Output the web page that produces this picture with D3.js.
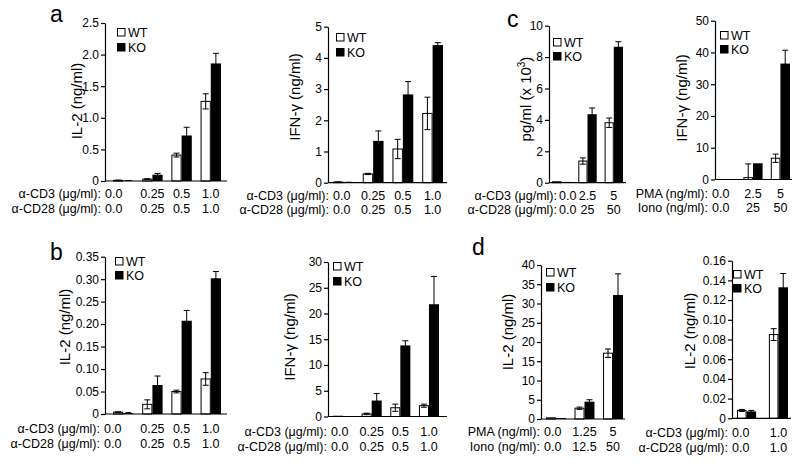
<!DOCTYPE html>
<html><head><meta charset="utf-8">
<script src="https://cdn.jsdelivr.net/npm/d3@7"></script>
<style>
body{margin:0;background:#fff}
svg{display:block}
text{font-family:"Liberation Sans",Arial,Helvetica,sans-serif;fill:#000}
</style>
</head><body>
<svg id="c" width="800" height="466"></svg>
<script>
// ---------- DATA ----------
const seriesNames = ["WT", "KO"];
const rowCD3 = "α-CD3 (μg/ml):";
const rowCD28 = "α-CD28 (μg/ml):";
const rowPMA = "PMA (ng/ml):";
const rowIono = "Iono (ng/ml):";

// panel a (anti-CD3/CD28 doses)
const aCD3 = ["0.0", "0.25", "0.5", "1.0"];
const aCD28 = ["0.0", "0.25", "0.5", "1.0"];
const aIL2Ticks = [0, 0.5, 1.0, 1.5, 2.0, 2.5];
const aIL2WT = [0.01, 0.03, 0.41, 1.26];
const aIL2WTerr = [0.004, 0.005, 0.03, 0.12];
const aIL2KO = [0.005, 0.10, 0.72, 1.86];
const aIL2KOerr = [0.003, 0.02, 0.13, 0.16];
const aIFNTicks = [0, 1, 2, 3, 4, 5];
const aIFNWT = [0.02, 0.28, 1.08, 2.22];
const aIFNWTerr = [0.005, 0.02, 0.31, 0.52];
const aIFNKO = [0.01, 1.34, 2.83, 4.41];
const aIFNKOerr = [0.005, 0.32, 0.41, 0.08];

// panel b
const bCD3 = ["0.0", "0.25", "0.5", "1.0"];
const bCD28 = ["0.0", "0.25", "0.5", "1.0"];
const bIL2Ticks = [0, 0.05, 0.10, 0.15, 0.20, 0.25, 0.30, 0.35];
const bIL2WT = [0.004, 0.0215, 0.05, 0.078];
const bIL2WTerr = [0.001, 0.01, 0.003, 0.014];
const bIL2KO = [0.002, 0.0645, 0.2075, 0.302];
const bIL2KOerr = [0.001, 0.02, 0.023, 0.015];
const bIFNTicks = [0, 5, 10, 15, 20, 25, 30];
const bIFNWT = [0.05, 0.5, 1.7, 2.1];
const bIFNWTerr = [0, 0.15, 0.7, 0.3];
const bIFNKO = [0.05, 3.1, 13.8, 21.8];
const bIFNKOerr = [0, 1.35, 0.9, 5.4];

// panel c
const cCD3 = ["0.0", "2.5", "5"];
const cCD28 = ["0.0", "25", "50"];
const cPgTicks = [0, 2, 4, 6, 8, 10];
const cPgWT = [0.06, 1.38, 3.82];
const cPgWTerr = [0, 0.2, 0.3];
const cPgKO = [0.05, 4.36, 8.66];
const cPgKOerr = [0, 0.4, 0.32];
const cPMA = ["0.0", "2.5", "5"];
const cIono = ["0.0", "25", "50"];
const cIFNTicks = [0, 10, 20, 30, 40, 50];
const cIFNWT = [0, 0.6, 6.7];
const cIFNWTerr = [0, 4.3, 1.3];
const cIFNKO = [0, 5.1, 36.5];
const cIFNKOerr = [0, 0, 4.2];

// panel d
const dPMA = ["0.0", "1.25", "5"];
const dIono = ["0.0", "12.5", "50"];
const dIL2aTicks = [0, 5, 10, 15, 20, 25, 30, 35, 40];
const dIL2aWT = [0.3, 2.8, 17.1];
const dIL2aWTerr = [0, 0.3, 1.1];
const dIL2aKO = [0.25, 4.5, 32.2];
const dIL2aKOerr = [0, 0.5, 5.5];
const dCD3 = ["0.0", "1.0"];
const dCD28 = ["0.0", "1.0"];
const dIL2bTicks = [0, 0.02, 0.04, 0.06, 0.08, 0.10, 0.12, 0.14, 0.16];
const dIL2bWT = [0.008, 0.085];
const dIL2bWTerr = [0.001, 0.006];
const dIL2bKO = [0.007, 0.133];
const dIL2bKOerr = [0.001, 0.014];

// ---------- LAYOUT ----------
const fmt1 = v => v === 0 ? "0" : d3.format(".1f")(v);
const fmt2 = v => v === 0 ? "0" : d3.format(".2f")(v);
const fmt0 = d3.format("d");

const panels = [
  {cats1: aCD3, cats2: aCD28, rows: [rowCD3, rowCD28], wt: aIL2WT, wtE: aIL2WTerr, ko: aIL2KO, koE: aIL2KOerr,
   ticks: aIL2Ticks, fmt: fmt1, title: ["IL-2 (ng/ml)"],
   axisX: 105, axisEnd: 227, bands: [113, 221], yTop: 23, yBot: 181,
   titleX: 82, titleY: 101, leg: [117, 28, 15], rowEnd: 101, rowY: [198, 213]},
  {cats1: aCD3, cats2: aCD28, rows: [rowCD3, rowCD28], wt: aIFNWT, wtE: aIFNWTerr, ko: aIFNKO, koE: aIFNKOerr,
   ticks: aIFNTicks, fmt: fmt0, title: ["IFN-γ (ng/ml)"],
   axisX: 328, axisEnd: 447, bands: [333, 443], yTop: 26.7, yBot: 182.7,
   titleX: 300, titleY: 97, leg: [336, 33, 15], rowEnd: 329, rowY: [199.5, 214]},
  {cats1: cCD3, cats2: cCD28, rows: [rowCD3, rowCD28], wt: cPgWT, wtE: cPgWTerr, ko: cPgKO, koE: cPgKOerr,
   ticks: cPgTicks, fmt: fmt0, title: null,
   axisX: 549, axisEnd: 626, bands: [552, 623], yTop: 25.7, yBot: 182.7,
   titleX: 531, titleY: 99, leg: [553, 38, 14], rowEnd: 557, rowY: [199.5, 214], gap: 2},
  {cats1: cPMA, cats2: cIono, rows: [rowPMA, rowIono], wt: cIFNWT, wtE: cIFNWTerr, ko: cIFNKO, koE: cIFNKOerr,
   ticks: cIFNTicks, fmt: fmt0, title: ["IFN-γ (ng/ml)"],
   axisX: 715, axisEnd: 792, bands: [716, 790], yTop: 20.7, yBot: 179.5,
   titleX: 687, titleY: 98, leg: [720, 31, 14], rowEnd: 708, rowY: [197.5, 212]},
  {cats1: bCD3, cats2: bCD28, rows: [rowCD3, rowCD28], wt: bIL2WT, wtE: bIL2WTerr, ko: bIL2KO, koE: bIL2KOerr,
   ticks: bIL2Ticks, fmt: fmt2, title: ["IL-2 (ng/ml)"],
   axisX: 105, axisEnd: 227, bands: [113, 221], yTop: 256.7, yBot: 414,
   titleX: 70, titleY: 327, leg: [115, 257, 14], rowEnd: 100, rowY: [433, 448]},
  {cats1: bCD3, cats2: bCD28, rows: [rowCD3, rowCD28], wt: bIFNWT, wtE: bIFNWTerr, ko: bIFNKO, koE: bIFNKOerr,
   ticks: bIFNTicks, fmt: fmt0, title: ["IFN-γ (ng/ml)"],
   axisX: 328, axisEnd: 447, bands: [333, 439], yTop: 262, yBot: 416.5,
   titleX: 295, titleY: 337, leg: [333, 262, 15], rowEnd: 327, rowY: [436, 451]},
  {cats1: dPMA, cats2: dIono, rows: [rowPMA, rowIono], wt: dIL2aWT, wtE: dIL2aWTerr, ko: dIL2aKO, koE: dIL2aKOerr,
   ticks: dIL2aTicks, fmt: fmt0, title: ["IL-2 (ng/ml)"],
   axisX: 541, axisEnd: 625, bands: [546, 623], yTop: 265, yBot: 419,
   titleX: 513, titleY: 332, leg: [546, 268, 15], rowEnd: 540, rowY: [436, 450.5]},
  {cats1: dCD3, cats2: dCD28, rows: [rowCD3, rowCD28], wt: dIL2bWT, wtE: dIL2bWTerr, ko: dIL2bKO, koE: dIL2bKOerr,
   ticks: dIL2bTicks, fmt: fmt2, title: ["IL-2 (ng/ml)"],
   axisX: 732, axisEnd: 791, bands: [737, 788], yTop: 260.7, yBot: 418.3,
   titleX: 695, titleY: 331, leg: [733, 270, 14], rowEnd: 728, rowY: [437, 452], pi: 0.4}
];

const letters = [
  {t: "a", x: 50, y: 22}, {t: "b", x: 50, y: 260},
  {t: "c", x: 507, y: 27}, {t: "d", x: 472, y: 255}
];

// ---------- DRAW ----------
const svg = d3.select("#c");
const rowFont = 12.5;

function drawPanel(p) {
  const g = svg.append("g");
  const x = d3.scaleBand().domain(p.cats1).range(p.bands)
    .paddingInner(p.pi ?? 0.3).paddingOuter(0);
  const xs = d3.scaleBand().domain(seriesNames).range([0, x.bandwidth()]);
  const y = d3.scaleLinear().domain([0, d3.max(p.ticks)]).range([p.yBot, p.yTop]);

  const recs = p.cats1.map((c, i) => [
    {c, s: "WT", v: p.wt[i], e: p.wtE[i]},
    {c, s: "KO", v: p.ko[i], e: p.koE[i]}
  ]).flat();

  g.selectAll("rect.bar").data(recs).join("rect")
    .attr("class", "bar")
    .attr("x", d => x(d.c) + xs(d.s) + (d.s === "WT" ? 0.5 : 0))
    .attr("width", d => xs.bandwidth() - (d.s === "WT" ? 1 : 0))
    .attr("y", d => y(d.v))
    .attr("height", d => Math.max(0, y(0) - y(d.v)))
    .attr("fill", d => d.s === "WT" ? "#fff" : "#000")
    .attr("stroke", "#000")
    .attr("stroke-width", d => d.s === "WT" ? 1 : 0);

  const eb = recs.filter(d => d.e > 0);
  const cx = d => x(d.c) + xs(d.s) + xs.bandwidth() / 2;
  const cap = 3;
  const eg = g.selectAll("g.err").data(eb).join("g").attr("class", "err")
    .attr("stroke", "#000").attr("stroke-width", 1);
  eg.append("line").attr("x1", cx).attr("x2", cx)
    .attr("y1", d => y(Math.max(0, d.v - d.e))).attr("y2", d => y(d.v + d.e));
  eg.append("line").attr("x1", d => cx(d) - cap).attr("x2", d => cx(d) + cap)
    .attr("y1", d => y(d.v + d.e)).attr("y2", d => y(d.v + d.e));
  eg.filter(d => d.s === "WT" && d.v - d.e > 0).append("line")
    .attr("x1", d => cx(d) - cap).attr("x2", d => cx(d) + cap)
    .attr("y1", d => y(d.v - d.e)).attr("y2", d => y(d.v - d.e));

  // y axis
  const ax = g.append("g").attr("transform", `translate(${p.axisX},0)`)
    .call(d3.axisLeft(y).tickValues(p.ticks).tickFormat(p.fmt)
      .tickSize(4).tickSizeOuter(0).tickPadding(2));
  ax.selectAll("path,line").attr("stroke", "#000").attr("stroke-width", 1.2);
  ax.selectAll("text").attr("font-size", 12).attr("font-family", '"Liberation Sans",Arial,sans-serif').attr("fill", "#000");

  // baseline
  g.append("line").attr("x1", p.axisX).attr("x2", p.axisEnd)
    .attr("y1", y(0)).attr("y2", y(0)).attr("stroke", "#000").attr("stroke-width", 1.2);

  // y title
  const t = g.append("text")
    .attr("transform", `translate(${p.titleX},${p.titleY}) rotate(-90)`)
    .attr("text-anchor", "middle").attr("font-size", 15);
  if (p.title) {
    t.text(p.title[0]);
  } else {
    t.append("tspan").text("pg/ml (x 10");
    t.append("tspan").attr("font-size", 10).attr("dy", -6).text("3");
    t.append("tspan").attr("dy", 6).text(")");
  }

  // legend
  const [lx, ly, lgap] = p.leg;
  seriesNames.forEach((s, i) => {
    g.append("rect").attr("x", lx + 0.5).attr("y", ly + i * lgap + 0.5)
      .attr("width", 7.5).attr("height", 7.5)
      .attr("fill", s === "WT" ? "#fff" : "#000").attr("stroke", "#000").attr("stroke-width", 1);
    g.append("text").attr("x", lx + 11).attr("y", ly + i * lgap + 8.5)
      .attr("font-size", 12.5).text(s);
  });

  // x rows
  const gap = p.gap ?? 4;
  [p.cats1, p.cats2].forEach((cats, r) => {
    g.append("text").attr("x", p.rowEnd).attr("y", p.rowY[r])
      .attr("text-anchor", "end").attr("font-size", rowFont).text(p.rows[r]);
    cats.forEach((lab, i) => {
      const tx = g.append("text").attr("y", p.rowY[r])
        .attr("text-anchor", "middle").attr("font-size", rowFont).text(lab);
      if (i === 0) {
        const w = tx.node().getComputedTextLength();
        tx.attr("x", p.rowEnd + gap + w / 2);
      } else {
        tx.attr("x", x(p.cats1[i]) + x.bandwidth() / 2);
      }
    });
  });
}

panels.forEach(drawPanel);

svg.selectAll("text.letter").data(letters).join("text")
  .attr("class", "letter").attr("x", d => d.x).attr("y", d => d.y)
  .attr("font-size", 23).text(d => d.t);
</script>
</body></html>
